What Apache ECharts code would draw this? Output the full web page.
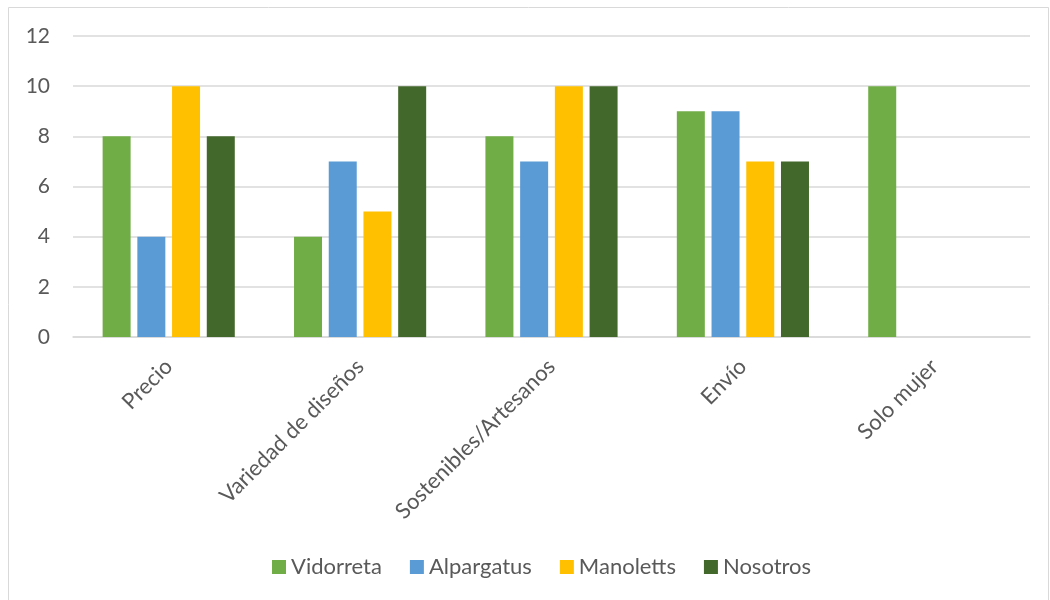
<!DOCTYPE html>
<html><head><meta charset="utf-8">
<script src="https://cdn.jsdelivr.net/npm/echarts@6/dist/echarts.min.js"></script>
<style>html,body{margin:0;padding:0;background:#fff}#c{width:1050px;height:600px}</style>
</head><body><div id="c"></div>
<script>
const categories = ['Precio', 'Variedad de diseños', 'Sostenibles/Artesanos', 'Envío', 'Solo mujer'];
const vidorreta = [8, 4, 8, 9, 10];
const alpargatus = [4, 7, 7, 9, 0];
const manoletts = [10, 5, 10, 7, 0];
const nosotros = [8, 10, 10, 7, 0];
const seriesNames = ['Vidorreta', 'Alpargatus', 'Manoletts', 'Nosotros'];
const colors = ['#70AD47', '#5B9BD5', '#FFC000', '#43682B'];
const yTicks = {min: 0, max: 12, interval: 2};

const font = 'Lato, "Noto Sans", sans-serif';
const chart = echarts.init(document.getElementById('c'));
const data = [vidorreta, alpargatus, manoletts, nosotros];
chart.setOption({
  animation: false,
  color: colors,
  graphic: [{type: 'rect', shape: {x: 8.5, y: 7.5, width: 1040, height: 600}, style: {fill: 'none', stroke: '#d9d9d9', lineWidth: 1}, silent: true}],
  grid: {left: 73, right: 20, top: 36, bottom: 263, containLabel: false},
  legend: {
    bottom: 17, left: 267, itemWidth: 14, itemHeight: 14, itemGap: 28, icon: 'rect',
    textStyle: {color: '#595959', fontSize: 22, fontFamily: font}
  },
  xAxis: {
    type: 'category', data: categories,
    axisLine: {lineStyle: {color: '#d9d9d9', width: 1.5}},
    axisTick: {show: false},
    axisLabel: {rotate: 45, color: '#595959', fontSize: 22, fontFamily: font, margin: 26, interval: 0}
  },
  yAxis: {
    type: 'value', min: yTicks.min, max: yTicks.max, interval: yTicks.interval,
    axisLine: {show: false}, axisTick: {show: false},
    splitLine: {lineStyle: {color: '#d9d9d9', width: 1.5}},
    axisLabel: {color: '#595959', fontSize: 21, fontFamily: font, margin: 23}
  },
  series: seriesNames.map((n, i) => ({
    name: n, type: 'bar', data: data[i], barWidth: 28, barGap: '24%',
    itemStyle: {color: colors[i]}
  }))
});
</script></body></html>
